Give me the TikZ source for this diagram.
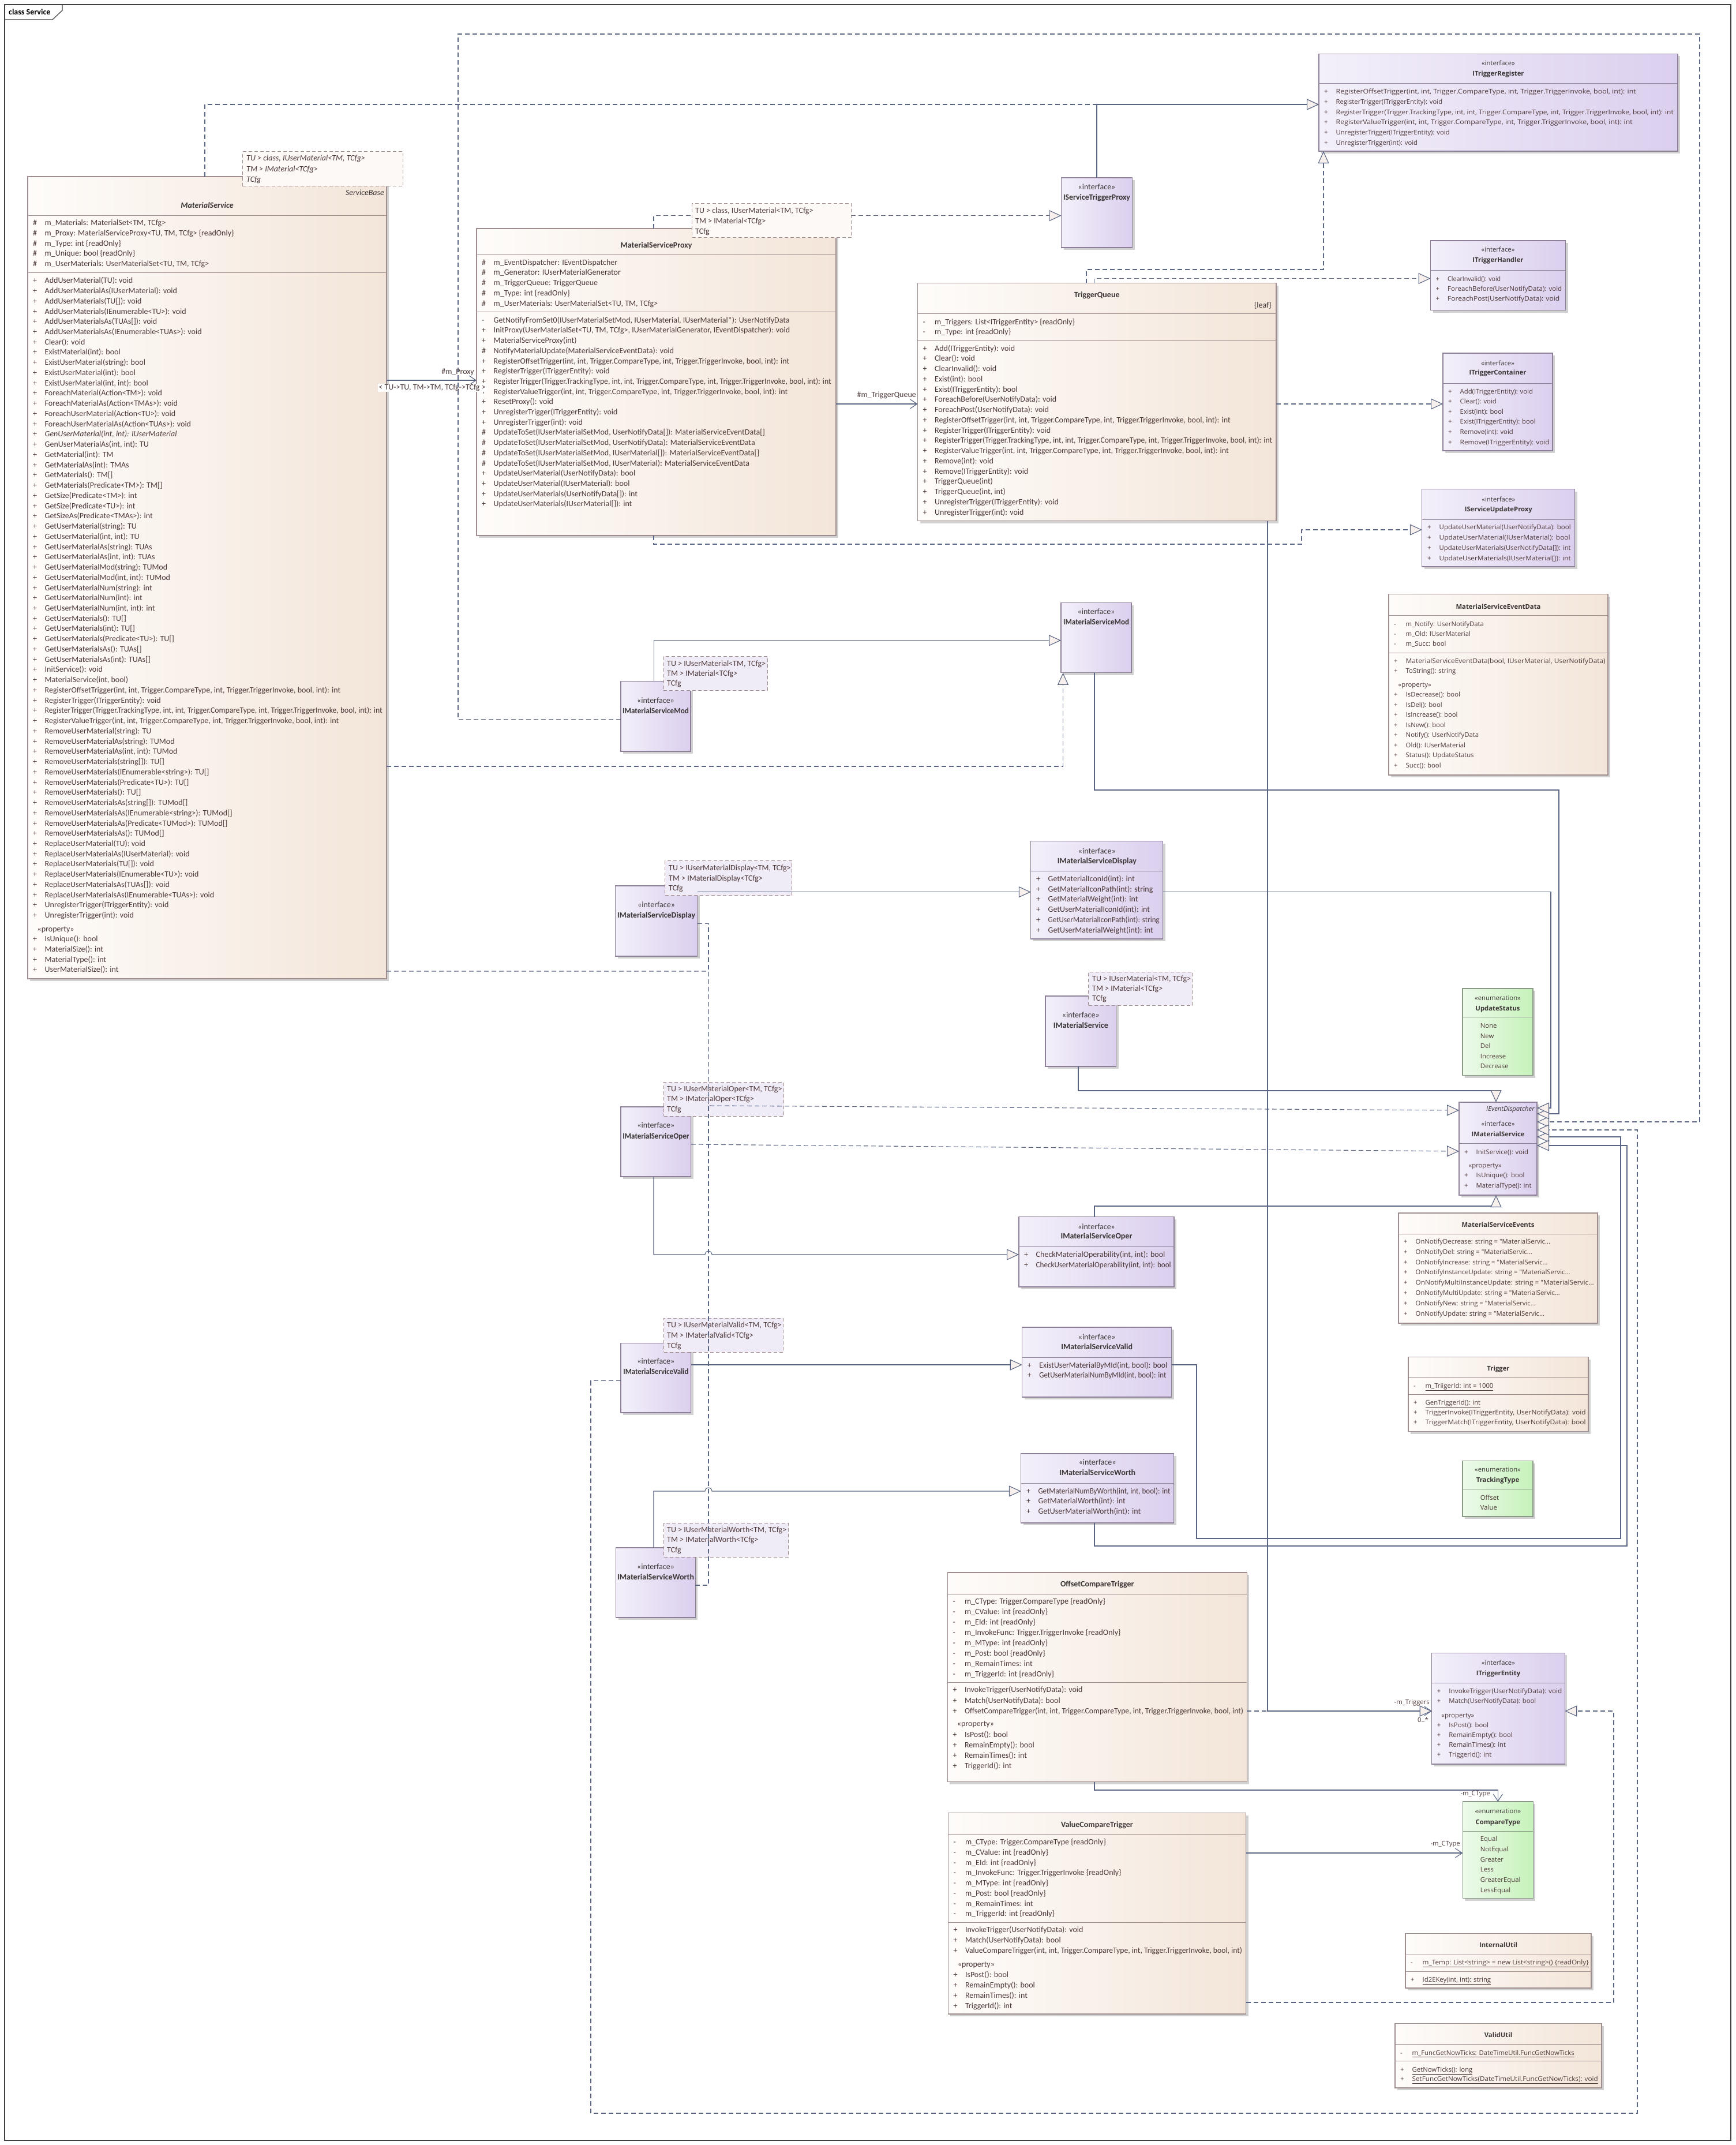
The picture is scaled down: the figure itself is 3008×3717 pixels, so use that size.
\documentclass[tikz,border=0pt]{standalone}
\usepackage{fontspec}
\usepackage{graphicx}
\setmainfont{Carlito}
\newfontfamily\segoe{Open Sans}
\usetikzlibrary{arrows.meta,shadows}

\definecolor{clsL}{HTML}{FEFCFA}
\definecolor{clsR}{HTML}{F3E5D9}
\definecolor{clsLine}{HTML}{A08E8E}
\definecolor{ifcL}{HTML}{F3F0FA}
\definecolor{ifcR}{HTML}{DBCFEE}
\definecolor{ifcLine}{HTML}{8E8098}
\definecolor{enmL}{HTML}{EDFAEA}
\definecolor{enmR}{HTML}{C6F2BA}
\definecolor{enmLine}{HTML}{8A9886}
\definecolor{tplLine}{HTML}{A08A8A}
\definecolor{tplC}{HTML}{FCF9F6}
\definecolor{tplI}{HTML}{EFEBF7}
\definecolor{conn}{HTML}{5A6584}
\definecolor{tipFill}{HTML}{F8F0EC}
\definecolor{txt}{HTML}{4D3838}
\definecolor{ttlTxt}{HTML}{3A3434}

\newcommand\calfont[1]{\fontsize{14}{#1}\selectfont}
\newcommand\segfont[1]{\segoe\fontsize{11.3}{#1}\selectfont}
\newcommand\vis[1]{\makebox[20.5pt][l]{#1}}
\newcommand\pub{\vis{+}}
\newcommand\prot{\vis{\#}}
\newcommand\priv{\vis{-}}
\newcommand\prop{\hspace*{7.5pt}«property»}
\newcommand\fitto[2]{\resizebox{#1}{\height}{#2}}
\newcommand\rows[1]{\begin{tabular}[t]{@{}l@{}}#1\end{tabular}}

\begin{document}
\begin{tikzpicture}[x=1pt, y=-1pt,
  cls/.style={draw=clsLine, line width=1.2pt, left color=clsL, right color=clsR,
    anchor=north west, inner sep=0pt, outer sep=0pt,
    drop shadow={shadow xshift=4pt, shadow yshift=-4pt, fill=black!40, opacity=0.45}},
  ifc/.style={cls, draw=ifcLine, left color=ifcL, right color=ifcR},
  enm/.style={cls, draw=enmLine, left color=enmL, right color=enmR},
  tpl/.style={draw=tplLine, line width=1pt, dash pattern=on 6pt off 4pt, fill=tplC,
    anchor=north west, inner sep=0pt},
  tpli/.style={tpl, fill=tplI},
  cut/.style={draw=clsLine, line width=1pt},
  ttl/.style={anchor=base, inner sep=0pt, text=ttlTxt},
  mem/.style={anchor=base west, inner sep=0pt, text=txt},
  lbl/.style={inner sep=0pt, text=txt},
  gen/.style={draw=conn, line width=1.1pt, -{Triangle[length=21pt,width=19pt,fill=tipFill]}},
  real/.style={gen, dash pattern=on 8pt off 5pt},
  dline/.style={draw=conn, line width=1.1pt, dash pattern=on 8pt off 5pt},
  assoc/.style={draw=conn, line width=1.1pt, -{Straight Barb[length=12pt,width=16pt]}}]

\useasboundingbox (0,0) rectangle (3008,3717);

% frame
\draw[line width=1.2pt, black!75] (8,8) rectangle (3000,3709);
\draw[line width=1.2pt, black!75] (8,34) -- (91,34) -- (108,18) -- (108,8);
\node[anchor=base west, inner sep=0pt, font=\calfont{17}\bfseries] (frame) at (15,25.5) {class Service};

% ---------------- MaterialService
\node[cls, minimum width=622pt, minimum height=1390pt] (ms) at (48,306) {};
\draw[cut] (ms.west |- 0,373.4) -- (ms.east |- 0,373.4);
\draw[cut] (ms.west |- 0,472.4) -- (ms.east |- 0,472.4);
\node[ttl, anchor=base east, font=\calfont{17}\itshape] (ms-b) at (666,338.5) {ServiceBase};
\node[ttl, font=\calfont{17}\bfseries\itshape] (ms-t) at (ms.north |- 0,360.2) {MaterialService};
\node[mem, font=\calfont{17.7}] (ms-a) at (57,390.8) {\rows{\prot m\_Materials: MaterialSet<TM, TCfg>\\
\prot m\_Proxy: MaterialServiceProxy<TU, TM, TCfg> \{readOnly\}\\
\prot m\_Type: int \{readOnly\}\\
\prot m\_Unique: bool \{readOnly\}\\
\prot m\_UserMaterials: UserMaterialSet<TU, TM, TCfg>}};
\node[mem, font=\calfont{17.74}] (ms-o) at (57,490.8) {\rows{\pub AddUserMaterial(TU): void\\
\pub AddUserMaterialAs(IUserMaterial): void\\
\pub AddUserMaterials(TU[]): void\\
\pub AddUserMaterials(IEnumerable<TU>): void\\
\pub AddUserMaterialsAs(TUAs[]): void\\
\pub AddUserMaterialsAs(IEnumerable<TUAs>): void\\
\pub Clear(): void\\
\pub ExistMaterial(int): bool\\
\pub ExistUserMaterial(string): bool\\
\pub ExistUserMaterial(int): bool\\
\pub ExistUserMaterial(int, int): bool\\
\pub ForeachMaterial(Action<TM>): void\\
\pub ForeachMaterialAs(Action<TMAs>): void\\
\pub ForeachUserMaterial(Action<TU>): void\\
\pub ForeachUserMaterialAs(Action<TUAs>): void\\
\pub \textit{GenUserMaterial(int, int): IUserMaterial}\\
\pub GenUserMaterialAs(int, int): TU\\
\pub GetMaterial(int): TM\\
\pub GetMaterialAs(int): TMAs\\
\pub GetMaterials(): TM[]\\
\pub GetMaterials(Predicate<TM>): TM[]\\
\pub GetSize(Predicate<TM>): int\\
\pub GetSize(Predicate<TU>): int\\
\pub GetSizeAs(Predicate<TMAs>): int\\
\pub GetUserMaterial(string): TU\\
\pub GetUserMaterial(int, int): TU\\
\pub GetUserMaterialAs(string): TUAs\\
\pub GetUserMaterialAs(int, int): TUAs\\
\pub GetUserMaterialMod(string): TUMod\\
\pub GetUserMaterialMod(int, int): TUMod\\
\pub GetUserMaterialNum(string): int\\
\pub GetUserMaterialNum(int): int\\
\pub GetUserMaterialNum(int, int): int\\
\pub GetUserMaterials(): TU[]\\
\pub GetUserMaterials(int): TU[]\\
\pub GetUserMaterials(Predicate<TU>): TU[]\\
\pub GetUserMaterialsAs(): TUAs[]\\
\pub GetUserMaterialsAs(int): TUAs[]\\
\pub InitService(): void\\
\pub MaterialService(int, bool)\\
\pub RegisterOffsetTrigger(int, int, Trigger.CompareType, int, Trigger.TriggerInvoke, bool, int): int\\
\pub RegisterTrigger(ITriggerEntity): void\\
\pub \fitto{585pt}{RegisterTrigger(Trigger.TrackingType, int, int, Trigger.CompareType, int, Trigger.TriggerInvoke, bool, int): int}\\
\pub RegisterValueTrigger(int, int, Trigger.CompareType, int, Trigger.TriggerInvoke, bool, int): int\\
\pub RemoveUserMaterial(string): TU\\
\pub RemoveUserMaterialAs(string): TUMod\\
\pub RemoveUserMaterialAs(int, int): TUMod\\
\pub RemoveUserMaterials(string[]): TU[]\\
\pub RemoveUserMaterials(IEnumerable<string>): TU[]\\
\pub RemoveUserMaterials(Predicate<TU>): TU[]\\
\pub RemoveUserMaterials(): TU[]\\
\pub RemoveUserMaterialsAs(string[]): TUMod[]\\
\pub RemoveUserMaterialsAs(IEnumerable<string>): TUMod[]\\
\pub RemoveUserMaterialsAs(Predicate<TUMod>): TUMod[]\\
\pub RemoveUserMaterialsAs(): TUMod[]\\
\pub ReplaceUserMaterial(TU): void\\
\pub ReplaceUserMaterialAs(IUserMaterial): void\\
\pub ReplaceUserMaterials(TU[]): void\\
\pub ReplaceUserMaterials(IEnumerable<TU>): void\\
\pub ReplaceUserMaterialsAs(TUAs[]): void\\
\pub ReplaceUserMaterialsAs(IEnumerable<TUAs>): void\\
\pub UnregisterTrigger(ITriggerEntity): void\\
\pub UnregisterTrigger(int): void\\[5.6pt]
\prop\\
\pub IsUnique(): bool\\
\pub MaterialSize(): int\\
\pub MaterialType(): int\\
\pub UserMaterialSize(): int}};

% ---------------- MaterialServiceProxy
\node[cls, minimum width=623pt, minimum height=532pt] (msp) at (826,396) {};
\draw[cut] (msp.west |- 0,441.4) -- (msp.east |- 0,441.4);
\draw[cut] (msp.west |- 0,540) -- (msp.east |- 0,540);
\node[ttl, font=\calfont{17}\bfseries] (msp-t) at (msp.north |- 0,429) {MaterialServiceProxy};
\node[mem, font=\calfont{17.8}] (msp-a) at (835,459) {\rows{\prot m\_EventDispatcher: IEventDispatcher\\
\prot m\_Generator: IUserMaterialGenerator\\
\prot m\_TriggerQueue: TriggerQueue\\
\prot m\_Type: int \{readOnly\}\\
\prot m\_UserMaterials: UserMaterialSet<TU, TM, TCfg>}};
\node[mem, font=\calfont{17.7}] (msp-o) at (835,559.2) {\rows{\priv GetNotifyFromSet0(IUserMaterialSetMod, IUserMaterial, IUserMaterial*): UserNotifyData\\
\pub InitProxy(UserMaterialSet<TU, TM, TCfg>, IUserMaterialGenerator, IEventDispatcher): void\\
\pub MaterialServiceProxy(int)\\
\prot NotifyMaterialUpdate(MaterialServiceEventData): void\\
\pub RegisterOffsetTrigger(int, int, Trigger.CompareType, int, Trigger.TriggerInvoke, bool, int): int\\
\pub RegisterTrigger(ITriggerEntity): void\\
\pub \fitto{585pt}{RegisterTrigger(Trigger.TrackingType, int, int, Trigger.CompareType, int, Trigger.TriggerInvoke, bool, int): int}\\
\pub RegisterValueTrigger(int, int, Trigger.CompareType, int, Trigger.TriggerInvoke, bool, int): int\\
\pub ResetProxy(): void\\
\pub UnregisterTrigger(ITriggerEntity): void\\
\pub UnregisterTrigger(int): void\\
\prot UpdateToSet(IUserMaterialSetMod, UserNotifyData[]): MaterialServiceEventData[]\\
\prot UpdateToSet(IUserMaterialSetMod, UserNotifyData): MaterialServiceEventData\\
\prot UpdateToSet(IUserMaterialSetMod, IUserMaterial[]): MaterialServiceEventData[]\\
\prot UpdateToSet(IUserMaterialSetMod, IUserMaterial): MaterialServiceEventData\\
\pub UpdateUserMaterial(UserNotifyData): bool\\
\pub UpdateUserMaterial(IUserMaterial): bool\\
\pub UpdateUserMaterials(UserNotifyData[]): int\\
\pub UpdateUserMaterials(IUserMaterial[]): int}};

% ---------------- TriggerQueue
\node[cls, minimum width=621.5pt, minimum height=412pt] (tq) at (1590.5,490.7) {};
\draw[cut] (tq.west |- 0,543) -- (tq.east |- 0,543);
\draw[cut] (tq.west |- 0,590) -- (tq.east |- 0,590);
\node[ttl, font=\calfont{17}\bfseries] (tq-t) at (tq.north |- 0,515.2) {TriggerQueue};
\node[ttl, anchor=base east, font=\calfont{17}] (tq-leaf) at (2204,533.2) {\{leaf\}};
\node[mem, font=\calfont{17}] (tq-a) at (1599.5,562.2) {\rows{\priv m\_Triggers: List<ITriggerEntity> \{readOnly\}\\
\priv m\_Type: int \{readOnly\}}};
\node[mem, font=\calfont{17.75}] (tq-o) at (1599.5,608.2) {\rows{\pub Add(ITriggerEntity): void\\
\pub Clear(): void\\
\pub ClearInvalid(): void\\
\pub Exist(int): bool\\
\pub Exist(ITriggerEntity): bool\\
\pub ForeachBefore(UserNotifyData): void\\
\pub ForeachPost(UserNotifyData): void\\
\pub RegisterOffsetTrigger(int, int, Trigger.CompareType, int, Trigger.TriggerInvoke, bool, int): int\\
\pub RegisterTrigger(ITriggerEntity): void\\
\pub \fitto{585pt}{RegisterTrigger(Trigger.TrackingType, int, int, Trigger.CompareType, int, Trigger.TriggerInvoke, bool, int): int}\\
\pub RegisterValueTrigger(int, int, Trigger.CompareType, int, Trigger.TriggerInvoke, bool, int): int\\
\pub Remove(int): void\\
\pub Remove(ITriggerEntity): void\\
\pub TriggerQueue(int)\\
\pub TriggerQueue(int, int)\\
\pub UnregisterTrigger(ITriggerEntity): void\\
\pub UnregisterTrigger(int): void}};

% ---------------- trigger interfaces (top right)
\node[ifc, minimum width=622pt, minimum height=168.5pt] (itr) at (2286,93.5) {};
\draw[cut, draw=ifcLine] (itr.west |- 0,145) -- (itr.east |- 0,145);
\node[ttl, font=\segfont{17}] (itr-s) at (itr.north |- 0,113.5) {«interface»};
\node[ttl, font=\segfont{17}\bfseries] (itr-t) at (itr.north |- 0,132) {ITriggerRegister};
\node[mem, font=\segfont{17.8}] (itr-o) at (2295,162.5) {\rows{\pub \fitto{520pt}{RegisterOffsetTrigger(int, int, Trigger.CompareType, int, Trigger.TriggerInvoke, bool, int): int}\\
\pub RegisterTrigger(ITriggerEntity): void\\
\pub \fitto{585pt}{RegisterTrigger(Trigger.TrackingType, int, int, Trigger.CompareType, int, Trigger.TriggerInvoke, bool, int): int}\\
\pub \fitto{514pt}{RegisterValueTrigger(int, int, Trigger.CompareType, int, Trigger.TriggerInvoke, bool, int): int}\\
\pub UnregisterTrigger(ITriggerEntity): void\\
\pub UnregisterTrigger(int): void}};

\node[ifc, minimum width=234pt, minimum height=120.7pt] (ith) at (2479.5,417) {};
\draw[cut, draw=ifcLine] (ith.west |- 0,468) -- (ith.east |- 0,468);
\node[ttl, font=\segfont{17}] (ith-s) at (ith.north |- 0,436.5) {«interface»};
\node[ttl, font=\segfont{17}\bfseries] (ith-t) at (ith.north |- 0,454.5) {ITriggerHandler};
\node[mem, font=\segfont{17.3}] (ith-o) at (2488.5,487) {\rows{\pub \fitto{92pt}{ClearInvalid(): void}\\
\pub \fitto{198pt}{ForeachBefore(UserNotifyData): void}\\
\pub \fitto{194pt}{ForeachPost(UserNotifyData): void}}};

\node[ifc, minimum width=190pt, minimum height=169pt] (itc) at (2501,612) {};
\draw[cut, draw=ifcLine] (itc.west |- 0,664) -- (itc.east |- 0,664);
\node[ttl, font=\segfont{17}] (itc-s) at (itc.north |- 0,633) {«interface»};
\node[ttl, font=\segfont{17}\bfseries] (itc-t) at (itc.north |- 0,649.5) {ITriggerContainer};
\node[mem, font=\segfont{17.6}] (itc-o) at (2510,682) {\rows{\pub Add(ITriggerEntity): void\\
\pub Clear(): void\\
\pub Exist(int): bool\\
\pub Exist(ITriggerEntity): bool\\
\pub Remove(int): void\\
\pub \fitto{155pt}{Remove(ITriggerEntity): void}}};

\node[ifc, minimum width=265pt, minimum height=134.4pt] (isup) at (2464.8,847.6) {};
\draw[cut, draw=ifcLine] (isup.west |- 0,900) -- (isup.east |- 0,900);
\node[ttl, font=\segfont{17}] (isup-s) at (isup.north |- 0,869) {«interface»};
\node[ttl, font=\segfont{17}\bfseries] (isup-t) at (isup.north |- 0,886) {IServiceUpdateProxy};
\node[mem, font=\segfont{17.8}] (isup-o) at (2474,917.8) {\rows{\pub \fitto{228pt}{UpdateUserMaterial(UserNotifyData): bool}\\
\pub \fitto{227pt}{UpdateUserMaterial(IUserMaterial): bool}\\
\pub \fitto{228pt}{UpdateUserMaterials(UserNotifyData[]): int}\\
\pub \fitto{228pt}{UpdateUserMaterials(IUserMaterial[]): int}}};

\node[ifc, minimum width=123pt, minimum height=121pt] (istp) at (1839.5,308) {};
\node[ttl, font=\calfont{17}] (istp-s) at (istp.north |- 0,328) {«interface»};
\node[ttl, font=\calfont{17}\bfseries] (istp-t) at (istp.north |- 0,346) {\fitto{116pt}{IServiceTriggerProxy}};

% ---------------- service interfaces (middle column)
\node[ifc, minimum width=122pt, minimum height=121.2pt] (imsm) at (1839,1044.6) {};
\node[ttl, font=\calfont{17}] (imsm-s) at (imsm.north |- 0,1064.5) {«interface»};
\node[ttl, font=\calfont{17}\bfseries] (imsm-t) at (imsm.north |- 0,1082.5) {\fitto{114pt}{IMaterialServiceMod}};

\node[ifc, minimum width=229pt, minimum height=169.4pt] (imsd) at (1786.8,1457.6) {};
\draw[cut, draw=ifcLine] (imsd.west |- 0,1509) -- (imsd.east |- 0,1509);
\node[ttl, font=\calfont{17}] (imsd-s) at (imsd.north |- 0,1479) {«interface»};
\node[ttl, font=\calfont{17}\bfseries] (imsd-t) at (imsd.north |- 0,1496) {IMaterialServiceDisplay};
\node[mem, font=\calfont{17.7}] (imsd-o) at (1796,1527.5) {\rows{\pub GetMaterialIconId(int): int\\
\pub GetMaterialIconPath(int): string\\
\pub GetMaterialWeight(int): int\\
\pub GetUserMaterialIconId(int): int\\
\pub \fitto{193pt}{GetUserMaterialIconPath(int): string}\\
\pub GetUserMaterialWeight(int): int}};

\node[ifc, minimum width=122.7pt, minimum height=122pt] (imsg) at (1812,1726) {};
\node[ttl, font=\calfont{17}] (imsg-s) at (imsg.north |- 0,1763.5) {«interface»};
\node[ttl, font=\calfont{17}\bfseries] (imsg-t) at (imsg.north |- 0,1781.5) {IMaterialService};

\node[ifc, minimum width=269pt, minimum height=121.3pt] (imso) at (1766,2108.7) {};
\draw[cut, draw=ifcLine] (imso.west |- 0,2160.6) -- (imso.east |- 0,2160.6);
\node[ttl, font=\calfont{17}] (imso-s) at (imso.north |- 0,2130) {«interface»};
\node[ttl, font=\calfont{17}\bfseries] (imso-t) at (imso.north |- 0,2146.5) {IMaterialServiceOper};
\node[mem, font=\calfont{17.6}] (imso-o) at (1775,2178.5) {\rows{\pub CheckMaterialOperability(int, int): bool\\
\pub \fitto{234pt}{CheckUserMaterialOperability(int, int): bool}}};

\node[ifc, minimum width=259pt, minimum height=121pt] (imsv) at (1771.7,2300) {};
\draw[cut, draw=ifcLine] (imsv.west |- 0,2352) -- (imsv.east |- 0,2352);
\node[ttl, font=\calfont{17}] (imsv-s) at (imsv.north |- 0,2321) {«interface»};
\node[ttl, font=\calfont{17}\bfseries] (imsv-t) at (imsv.north |- 0,2338) {IMaterialServiceValid};
\node[mem, font=\calfont{17.3}] (imsv-o) at (1780.7,2370) {\rows{\pub \fitto{222pt}{ExistUserMaterialByMId(int, bool): bool}\\
\pub \fitto{220pt}{GetUserMaterialNumByMId(int, bool): int}}};

\node[ifc, minimum width=264.7pt, minimum height=120pt] (imsw) at (1769.8,2519) {};
\draw[cut, draw=ifcLine] (imsw.west |- 0,2570) -- (imsw.east |- 0,2570);
\node[ttl, font=\calfont{17}] (imsw-s) at (imsw.north |- 0,2538.5) {«interface»};
\node[ttl, font=\calfont{17}\bfseries] (imsw-t) at (imsw.north |- 0,2556.5) {IMaterialServiceWorth};
\node[mem, font=\calfont{17.3}] (imsw-o) at (1778.8,2588.5) {\rows{\pub \fitto{229pt}{GetMaterialNumByWorth(int, int, bool): int}\\
\pub GetMaterialWorth(int): int\\
\pub GetUserMaterialWorth(int): int}};

% ---------------- generic interfaces (left column)
\node[ifc, minimum width=121pt, minimum height=121.6pt] (imsms) at (1076,1180.4) {};
\node[ttl, font=\calfont{17}] (imsms-s) at (imsms.north |- 0,1218) {«interface»};
\node[ttl, font=\calfont{17}\bfseries] (imsms-t) at (imsms.north |- 0,1236) {\fitto{115pt}{IMaterialServiceMod}};

\node[ifc, minimum width=142pt, minimum height=122pt] (imsds) at (1066.6,1535) {};
\node[ttl, font=\calfont{17}] (imsds-s) at (imsds.north |- 0,1572.5) {«interface»};
\node[ttl, font=\calfont{17}\bfseries] (imsds-t) at (imsds.north |- 0,1590) {\fitto{135pt}{IMaterialServiceDisplay}};

\node[ifc, minimum width=121.8pt, minimum height=121pt] (imsos) at (1076,1918) {};
\node[ttl, font=\calfont{17}] (imsos-s) at (imsos.north |- 0,1954.5) {«interface»};
\node[ttl, font=\calfont{17}\bfseries] (imsos-t) at (imsos.north |- 0,1973) {\fitto{115pt}{IMaterialServiceOper}};

\node[ifc, minimum width=121.8pt, minimum height=120.3pt] (imsvs) at (1076,2327.7) {};
\node[ttl, font=\calfont{17}] (imsvs-s) at (imsvs.north |- 0,2363.5) {«interface»};
\node[ttl, font=\calfont{17}\bfseries] (imsvs-t) at (imsvs.north |- 0,2381.5) {\fitto{113pt}{IMaterialServiceValid}};

\node[ifc, minimum width=137.7pt, minimum height=121pt] (imsws) at (1067.7,2682) {};
\node[ttl, font=\calfont{17}] (imsws-s) at (imsws.north |- 0,2719) {«interface»};
\node[ttl, font=\calfont{17}\bfseries] (imsws-t) at (imsws.north |- 0,2737) {\fitto{133pt}{IMaterialServiceWorth}};

% ---------------- right column
\node[cls, minimum width=380pt, minimum height=313.5pt] (msed) at (2407,1029.5) {};
\draw[cut] (msed.west |- 0,1066) -- (msed.east |- 0,1066);
\draw[cut] (msed.west |- 0,1131.5) -- (msed.east |- 0,1131.5);
\node[ttl, font=\segfont{17}\bfseries] (msed-t) at (msed.north |- 0,1055.5) {MaterialServiceEventData};
\node[mem, font=\segfont{17.3}] (msed-a) at (2416,1085) {\rows{\priv m\_Notify: UserNotifyData\\
\priv m\_Old: IUserMaterial\\
\priv m\_Succ: bool}};
\node[mem, font=\segfont{17.5}] (msed-o) at (2416,1149) {\rows{\pub \fitto{346pt}{MaterialServiceEventData(bool, IUserMaterial, UserNotifyData)}\\
\pub ToString(): string\\[6pt]
\prop\\
\pub IsDecrease(): bool\\
\pub IsDel(): bool\\
\pub IsIncrease(): bool\\
\pub IsNew(): bool\\
\pub Notify(): UserNotifyData\\
\pub Old(): IUserMaterial\\
\pub Status(): UpdateStatus\\
\pub Succ(): bool}};

\node[enm, minimum width=122pt, minimum height=150.6pt] (us) at (2535,1713) {};
\draw[cut, draw=enmLine] (us.west |- 0,1762.7) -- (us.east |- 0,1762.7);
\node[ttl, font=\segfont{17}] (us-s) at (us.north |- 0,1733.5) {«enumeration»};
\node[ttl, font=\segfont{17}\bfseries] (us-t) at (us.north |- 0,1751) {UpdateStatus};
\node[mem, font=\segfont{17.5}] (us-v) at (2565.7,1781.5) {\rows{None\\ New\\ Del\\ Increase\\ Decrease}};

\node[ifc, minimum width=135pt, minimum height=161pt] (ims) at (2529,1910) {};
\draw[cut, draw=ifcLine] (ims.west |- 0,1981) -- (ims.east |- 0,1981);
\node[ttl, anchor=base east, font=\segfont{17}\itshape] (ims-b) at (2660,1925) {IEventDispatcher};
\node[ttl, font=\segfont{17}] (ims-s) at (ims.north |- 0,1951) {«interface»};
\node[ttl, font=\segfont{17}\bfseries] (ims-t) at (ims.north |- 0,1969) {IMaterialService};
\node[mem, font=\segfont{17.5}] (ims-o) at (2538,2000) {\rows{\pub InitService(): void\\[5.5pt]
\prop\\
\pub IsUnique(): bool\\
\pub MaterialType(): int}};

\node[cls, minimum width=345pt, minimum height=191pt] (msev) at (2424,2102) {};
\draw[cut] (msev.west |- 0,2138) -- (msev.east |- 0,2138);
\node[ttl, font=\segfont{17}\bfseries] (msev-t) at (msev.north |- 0,2126) {MaterialServiceEvents};
\node[mem, font=\segfont{17.8}] (msev-a) at (2433,2155.5) {\rows{\pub OnNotifyDecrease: string = "MaterialServic...\\
\pub OnNotifyDel: string = "MaterialServic...\\
\pub OnNotifyIncrease: string = "MaterialServic...\\
\pub OnNotifyInstanceUpdate: string = "MaterialServic...\\
\pub \fitto{309pt}{OnNotifyMultiInstanceUpdate: string = "MaterialServic...}\\
\pub OnNotifyMultiUpdate: string = "MaterialServic...\\
\pub OnNotifyNew: string = "MaterialServic...\\
\pub OnNotifyUpdate: string = "MaterialServic...}};

\node[cls, minimum width=312pt, minimum height=129pt] (trig) at (2441,2351.6) {};
\draw[cut] (trig.west |- 0,2387.4) -- (trig.east |- 0,2387.4);
\draw[cut] (trig.west |- 0,2416.7) -- (trig.east |- 0,2416.7);
\node[ttl, font=\segfont{17}\bfseries] (trig-t) at (trig.north |- 0,2375.5) {Trigger};
\node[mem, font=\segfont{17.4}] (trig-a) at (2450,2405) {\priv \underline{m\_TriigerId: int = 1000}};
\node[mem, font=\segfont{17.4}] (trig-o) at (2450,2434) {\rows{\pub \underline{GenTriggerId(): int}\\
\pub \fitto{278pt}{TriggerInvoke(ITriggerEntity, UserNotifyData): void}\\
\pub \fitto{278pt}{TriggerMatch(ITriggerEntity, UserNotifyData): bool}}};

\node[enm, minimum width=122pt, minimum height=96.3pt] (tt) at (2535,2531.7) {};
\draw[cut, draw=enmLine] (tt.west |- 0,2580.5) -- (tt.east |- 0,2580.5);
\node[ttl, font=\segfont{17}] (tt-s) at (tt.north |- 0,2550.5) {«enumeration»};
\node[ttl, font=\segfont{17}\bfseries] (tt-t) at (tt.north |- 0,2568.5) {TrackingType};
\node[mem, font=\segfont{17.5}] (tt-v) at (2565.7,2599) {\rows{Offset\\ Value}};

% ---------------- triggers (bottom)
\node[cls, minimum width=519pt, minimum height=362.7pt] (oct) at (1642.3,2725) {};
\draw[cut] (oct.west |- 0,2762.3) -- (oct.east |- 0,2762.3);
\draw[cut] (oct.west |- 0,2915.7) -- (oct.east |- 0,2915.7);
\node[ttl, font=\calfont{17}\bfseries] (oct-t) at (oct.north |- 0,2749.8) {OffsetCompareTrigger};
\node[mem, font=\calfont{17.95}] (oct-a) at (1651.3,2779.5) {\rows{\priv m\_CType: Trigger.CompareType \{readOnly\}\\
\priv m\_CValue: int \{readOnly\}\\
\priv m\_EId: int \{readOnly\}\\
\priv m\_InvokeFunc: Trigger.TriggerInvoke \{readOnly\}\\
\priv m\_MType: int \{readOnly\}\\
\priv m\_Post: bool \{readOnly\}\\
\priv m\_RemainTimes: int\\
\priv m\_TriggerId: int \{readOnly\}}};
\node[mem, font=\calfont{18.2}] (oct-o) at (1651.3,2932.8) {\rows{\pub InvokeTrigger(UserNotifyData): void\\
\pub Match(UserNotifyData): bool\\
\pub \fitto{483pt}{OffsetCompareTrigger(int, int, Trigger.CompareType, int, Trigger.TriggerInvoke, bool, int)}\\[4.5pt]
\prop\\
\pub IsPost(): bool\\
\pub RemainEmpty(): bool\\
\pub RemainTimes(): int\\
\pub TriggerId(): int}};

\node[cls, minimum width=516.3pt, minimum height=348.3pt] (vct) at (1643.3,3141.7) {};
\draw[cut] (vct.west |- 0,3178.7) -- (vct.east |- 0,3178.7);
\draw[cut] (vct.west |- 0,3331.3) -- (vct.east |- 0,3331.3);
\node[ttl, font=\calfont{17}\bfseries] (vct-t) at (vct.north |- 0,3166.8) {ValueCompareTrigger};
\node[mem, font=\calfont{17.7}] (vct-a) at (1652.3,3196.8) {\rows{\priv m\_CType: Trigger.CompareType \{readOnly\}\\
\priv m\_CValue: int \{readOnly\}\\
\priv m\_EId: int \{readOnly\}\\
\priv m\_InvokeFunc: Trigger.TriggerInvoke \{readOnly\}\\
\priv m\_MType: int \{readOnly\}\\
\priv m\_Post: bool \{readOnly\}\\
\priv m\_RemainTimes: int\\
\priv m\_TriggerId: int \{readOnly\}}};
\node[mem, font=\calfont{18}] (vct-o) at (1652.3,3348.8) {\rows{\pub InvokeTrigger(UserNotifyData): void\\
\pub Match(UserNotifyData): bool\\
\pub \fitto{480pt}{ValueCompareTrigger(int, int, Trigger.CompareType, int, Trigger.TriggerInvoke, bool, int)}\\[5.4pt]
\prop\\
\pub IsPost(): bool\\
\pub RemainEmpty(): bool\\
\pub RemainTimes(): int\\
\pub TriggerId(): int}};

\node[ifc, minimum width=230.6pt, minimum height=192.7pt] (ite) at (2481.7,2864.3) {};
\draw[cut, draw=ifcLine] (ite.west |- 0,2916.3) -- (ite.east |- 0,2916.3);
\node[ttl, font=\segfont{17}] (ite-s) at (ite.north |- 0,2885) {«interface»};
\node[ttl, font=\segfont{17}\bfseries] (ite-t) at (ite.north |- 0,2903) {ITriggerEntity};
\node[mem, font=\segfont{17}] (ite-o) at (2490.7,2934.5) {\rows{\pub \fitto{196pt}{InvokeTrigger(UserNotifyData): void}\\
\pub Match(UserNotifyData): bool\\[7.5pt]
\prop\\
\pub IsPost(): bool\\
\pub RemainEmpty(): bool\\
\pub RemainTimes(): int\\
\pub TriggerId(): int}};

\node[enm, minimum width=122pt, minimum height=167.8pt] (ct) at (2535.3,3122) {};
\draw[cut, draw=enmLine] (ct.west |- 0,3173) -- (ct.east |- 0,3173);
\node[ttl, font=\segfont{17}] (ct-s) at (ct.north |- 0,3142.5) {«enumeration»};
\node[ttl, font=\segfont{17}\bfseries] (ct-t) at (ct.north |- 0,3161) {CompareType};
\node[mem, font=\segfont{17.8}] (ct-v) at (2565.7,3190.5) {\rows{Equal\\ NotEqual\\ Greater\\ Less\\ GreaterEqual\\ LessEqual}};

\node[cls, minimum width=322pt, minimum height=94.5pt] (iu) at (2436,3350.5) {};
\draw[cut] (iu.west |- 0,3387) -- (iu.east |- 0,3387);
\draw[cut] (iu.west |- 0,3416) -- (iu.east |- 0,3416);
\node[ttl, font=\segfont{17}\bfseries] (iu-t) at (iu.north |- 0,3374.5) {InternalUtil};
\node[mem, font=\segfont{17}] (iu-a) at (2445,3404.5) {\priv \underline{\fitto{288pt}{m\_Temp: List<string> = new List<string>() \{readOnly\}}}};
\node[mem, font=\segfont{17}] (iu-o) at (2445,3434) {\pub \underline{Id2EKey(int, int): string}};

\node[cls, minimum width=358pt, minimum height=111.4pt] (vu) at (2418,3506.6) {};
\draw[cut] (vu.west |- 0,3542) -- (vu.east |- 0,3542);
\draw[cut] (vu.west |- 0,3571) -- (vu.east |- 0,3571);
\node[ttl, font=\segfont{17}\bfseries] (vu-t) at (vu.north |- 0,3530.5) {ValidUtil};
\node[mem, font=\segfont{17}] (vu-a) at (2427,3561) {\priv \underline{m\_FuncGetNowTicks: DateTimeUtil.FuncGetNowTicks}};
\node[mem, font=\segfont{16.5}] (vu-o) at (2427,3590) {\rows{\pub \underline{GetNowTicks(): long}\\
\pub \underline{\fitto{322pt}{SetFuncGetNowTicks(DateTimeUtil.FuncGetNowTicks): void}}}};

% ---------------- connectors hidden by template boxes
\draw[real] (msp.north -| 1133,0) |- (istp.west |- 0,373.7);

% ---------------- template parameter boxes
\node[tpl, minimum width=278pt, minimum height=60pt] (ms-p) at (420,262) {};
\node[mem, font=\calfont{18.5}\itshape] (ms-pt) at (427,278.8) {\rows{TU > class, IUserMaterial<TM, TCfg>\\ TM > IMaterial<TCfg>\\ TCfg}};
\node[tpl, minimum width=276pt, minimum height=59pt] (msp-p) at (1199,352) {};
\node[mem, font=\calfont{18}] (msp-pt) at (1205,369) {\rows{TU > class, IUserMaterial<TM, TCfg>\\ TM > IMaterial<TCfg>\\ TCfg}};
\node[tpli, minimum width=180.5pt, minimum height=59pt] (imsms-p) at (1149.5,1137) {};
\node[mem, font=\calfont{17.3}] (imsms-pt) at (1156,1154) {\rows{TU > IUserMaterial<TM, TCfg>\\ TM > IMaterial<TCfg>\\ TCfg}};
\node[tpli, minimum width=220pt, minimum height=60pt] (imsds-p) at (1152,1491) {};
\node[mem, font=\calfont{17.5}] (imsds-pt) at (1159,1508.5) {\rows{TU > IUserMaterialDisplay<TM, TCfg>\\ TM > IMaterialDisplay<TCfg>\\ TCfg}};
\node[tpli, minimum width=180pt, minimum height=58pt] (imsg-p) at (1886,1683.8) {};
\node[mem, font=\calfont{17.3}] (imsg-pt) at (1893,1700) {\rows{TU > IUserMaterial<TM, TCfg>\\ TM > IMaterial<TCfg>\\ TCfg}};
\node[tpli, minimum width=208pt, minimum height=58.5pt] (imsos-p) at (1150,1875) {};
\node[mem, font=\calfont{17.6}] (imsos-pt) at (1156,1891) {\rows{TU > IUserMaterialOper<TM, TCfg>\\ TM > IMaterialOper<TCfg>\\ TCfg}};
\node[tpli, minimum width=207pt, minimum height=58.8pt] (imsvs-p) at (1150,2283.8) {};
\node[mem, font=\calfont{18}] (imsvs-pt) at (1156,2300) {\rows{TU > IUserMaterialValid<TM, TCfg>\\ TM > IMaterialValid<TCfg>\\ TCfg}};
\node[tpli, minimum width=216pt, minimum height=58.8pt] (imsws-p) at (1150,2639) {};
\node[mem, font=\calfont{17.7}] (imsws-pt) at (1156,2655) {\rows{TU > IUserMaterialWorth<TM, TCfg>\\ TM > IMaterialWorth<TCfg>\\ TCfg}};

% ---------------- associations
\draw[assoc] (ms.east |- 0,659) -- (msp.west |- 0,659);
\node[lbl, anchor=base east, font=\calfont{17}] (ms-px) at (822,648.5) {\#m\_Proxy};
\node[lbl, anchor=base, fill=white, inner sep=1pt, font=\calfont{17}] (ms-pb) at (749,675.5) {< TU->TU, TM->TM, TCfg->TCfg >};
\draw[assoc] (msp.east |- 0,700) -- (tq.west |- 0,700);
\node[lbl, anchor=base east, font=\calfont{17}] (msp-tq) at (1588,688.5) {\#m\_TriggerQueue};
\draw[assoc] (tq.south -| 2197,0) -- (2197,2965) -- (ite.west |- 0,2965);
\node[lbl, anchor=base east, font=\segfont{17}] (tq-tr) at (2478,2953) {-m\_Triggers};
\node[lbl, anchor=base east, font=\segfont{17}] (tq-mul) at (2476,2984.5) {0..*};
\draw[assoc] (oct.south -| 1897,0) |- (ct.north |- 0,3102) -- (ct.north);
\node[lbl, anchor=base east, font=\segfont{17}] (oct-ct) at (2583,3111) {-m\_CType};
\draw[assoc] (vct.east |- 0,3211) -- (ct.west |- 0,3211);
\node[lbl, anchor=base east, font=\segfont{17}] (vct-ct) at (2531,3198.5) {-m\_CType};

% ---------------- realizations and generalizations
\draw[real] (ms.north -| 355,0) |- (itr.west |- 0,181);
\draw[gen] (istp.north) |- (itr.west |- 0,181);
\draw[real] (tq.north -| 1883,0) |- (2294,467) -- (itr.south -| 2294,0);
\draw[real] (tq.north -| 1896.5,0) |- (ith.west |- 0,482.6);
\draw[real] (tq.east |- 0,700) -- (itc.west |- 0,700);
\draw[real] (msp.south -| 1133,0) |- (2256,943) |- (isup.west |- 0,918);
\draw[real] (imsms.west |- 0,1246.6) -| (794,59) -| (2946,1944) -- (ims.east |- 0,1944);
\draw[gen] (imsms.north -| 1133.6,0) |- (imsm.west |- 0,1109.7);
\draw[real] (ms.east |- 0,1328) -| (imsm.south -| 1842.5,0);
\draw[gen] (imsm.south -| 1897,0) |- (2702,1369) |- (ims.east |- 0,1930);
\draw[gen] (imsds.east |- 0,1545.7) -- (imsd.west |- 0,1545.7);
\draw[gen] (imsd.east |- 0,1545.7) -| (2688,1920) -- (ims.east |- 0,1920);
\draw[dline] (imsds.east |- 0,1600.7) -| (1228,1683);
\draw[real] (ms.east |- 0,1683) -| (1228,1916) -- (ims.west |- 0,1924);
\draw[gen] (imsg.south -| 1869,0) |- (2593,1890) -- (ims.north -| 2593,0);
\draw[gen] (imsos.south -| 1133,0) |- (1222,2174) arc (180:360:6) -- (imso.west |- 0,2174);
\draw[real] (imsos.east |- 0,1983) -- (ims.west |- 0,1995);
\draw[gen] (imso.north -| 1897,0) |- (2593,2090) -- (ims.south -| 2593,0);
\draw[gen] (imsvs.east |- 0,2365) -- (imsv.west |- 0,2365);
\draw[gen] (imsv.east |- 0,2365) -| (2074,2666) -| (2809,1970) -- (ims.east |- 0,1970);
\draw[gen] (imsws.north -| 1133,0) |- (1222,2584) arc (180:360:6) -- (imsw.west |- 0,2584);
\draw[gen] (imsw.south -| 1897,0) |- (2820,2679) |- (ims.east |- 0,1985);
\draw[dline] (imsws.east |- 0,2747) -| (1228,1916);
\draw[real] (imsvs.west |- 0,2392.7) -| (1024,3662) -| (2838,1958) -- (ims.east |- 0,1958);
\draw[real] (oct.east |- 0,2965) -- (ite.west |- 0,2965);
\draw[real] (vct.east |- 0,3470) -| (2797,2965) -- (ite.east |- 0,2965);

\end{tikzpicture}
\end{document}
